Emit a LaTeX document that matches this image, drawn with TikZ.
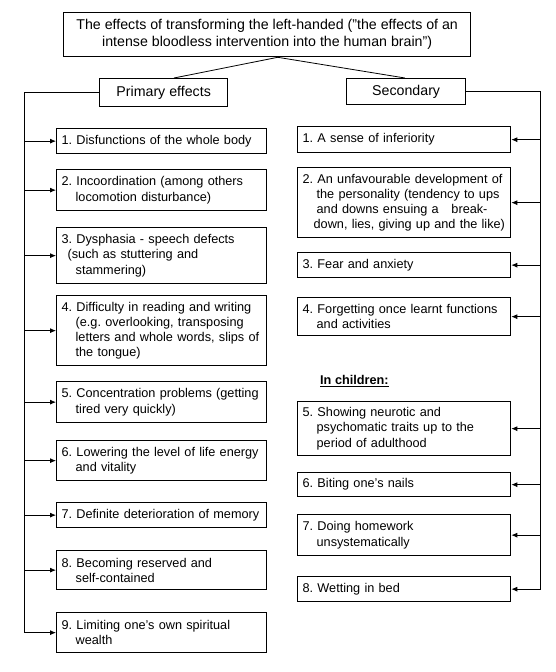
\documentclass[tikz,border=0pt]{standalone}
\usepackage{fontspec}
\setmainfont{Liberation Sans}
\usetikzlibrary{arrows.meta,calc}
\newcommand{\myind}{\hspace*{14pt}}
\newcommand{\sq}{\char39{}}
\newcommand{\dq}{\char34{}}
\frenchspacing
\begin{document}
\begin{tikzpicture}[x=1pt,y=-1pt,
  bx/.style={draw, line width=1.3pt, rectangle, anchor=north west, inner xsep=5pt, inner ysep=0pt, align=left, font=\fontsize{12.7}{15.2}\selectfont\frenchspacing},
  lbx/.style={bx, minimum width=210pt, text width=200pt},
  rbx/.style={bx, minimum width=213pt, text width=203pt},
  hd/.style={draw, line width=1.3pt, rectangle, anchor=north west, inner sep=0pt, font=\fontsize{14.2}{17}\selectfont},
  con/.style={line width=0.8pt},
  arr/.style={con, -{Latex[length=6pt,width=5pt]}}]
\useasboundingbox (0,0) rectangle (556,672);

\node[hd, minimum width=407pt, minimum height=44pt, align=center] (t) at (63,12)
  {The effects of transforming the left-handed (\dq the effects of an\\intense bloodless intervention into the human brain\dq)};
\node[hd, minimum width=128pt, minimum height=28pt] (pr) at (99,78) {Primary effects};
\node[hd, minimum width=119pt, minimum height=26pt] (se) at (346,78) {Secondary};

\node[lbx, minimum height=25pt] (p1) at (56,128) {1. Disfunctions of the whole body};
\node[lbx, minimum height=41pt] (p2) at (56,169) {2. Incoordination (among others\\\myind locomotion disturbance)};
\node[lbx, minimum height=56pt] (p3) at (56,227) {3. Dysphasia - speech defects\\\hspace*{6pt}(such as stuttering and\\\myind stammering)};
\node[lbx, minimum height=70pt] (p4) at (56,295) {4. Difficulty in reading and writing\\\myind(e.g. overlooking, transposing\\\myind letters and whole words, slips of\\\myind the tongue)};
\node[lbx, minimum height=41pt] (p5) at (56,381) {5. Concentration problems (getting\\\myind tired very quickly)};
\node[lbx, minimum height=40pt] (p6) at (56,440) {6. Lowering the level of life energy\\\myind and vitality};
\node[lbx, minimum height=25pt] (p7) at (56,502) {7. Definite deterioration of memory};
\node[lbx, minimum height=39pt] (p8) at (56,550) {8. Becoming reserved and\\\myind self-contained};
\node[lbx, minimum height=40pt] (p9) at (56,612) {9. Limiting one\sq s own spiritual\\\myind wealth};

\node[rbx, minimum height=26pt] (s1) at (297,126) {1. A sense of inferiority};
\node[rbx, minimum height=70pt] (s2) at (297,167) {2. An unfavourable development of\\\myind the personality (tendency to ups\\\myind and downs ensuing a~~~break-\\\hspace*{11pt}down, lies, giving up and the like)};
\node[rbx, minimum height=25pt] (s3) at (297,252) {3. Fear and anxiety};
\node[rbx, minimum height=38pt] (s4) at (297,297) {4. Forgetting once learnt functions\\\myind and activities};
\node[anchor=west, inner sep=0pt, font=\fontsize{12.7}{15.2}\selectfont\bfseries] (ch) at (320,381) {\underline{In children:}};
\node[rbx, minimum height=54pt] (s5) at (297,401) {5. Showing neurotic and\\\myind psychomatic traits up to the\\\myind period of adulthood};
\node[rbx, minimum height=24pt] (s6) at (297,472) {6. Biting one\sq s nails};
\node[rbx, minimum height=41pt] (s7) at (297,514) {7. Doing homework\\\myind unsystematically};
\node[rbx, minimum height=25pt] (s8) at (297,576) {8. Wetting in bed};

\coordinate (L) at (24,93);
\coordinate (R) at (540,93);

\draw[con] ($(t.south west)!0.526!(t.south east)$) coordinate (tj) -- ($(pr.north west)!0.58!(pr.north east)$);
\draw[con] (tj) -- ($(se.north west)!0.49!(se.north east)$);

\draw[arr] (pr.west) -| (L |- p9.west) -- (p9.west);
\foreach \n in {1,...,8} \draw[arr] (L |- p\n.west) -- (p\n.west);

\draw[arr] (se.east) -| (R |- s8.east) -- (s8.east);
\foreach \n in {1,...,7} \draw[arr] (R |- s\n.east) -- (s\n.east);
\end{tikzpicture}
\end{document}
